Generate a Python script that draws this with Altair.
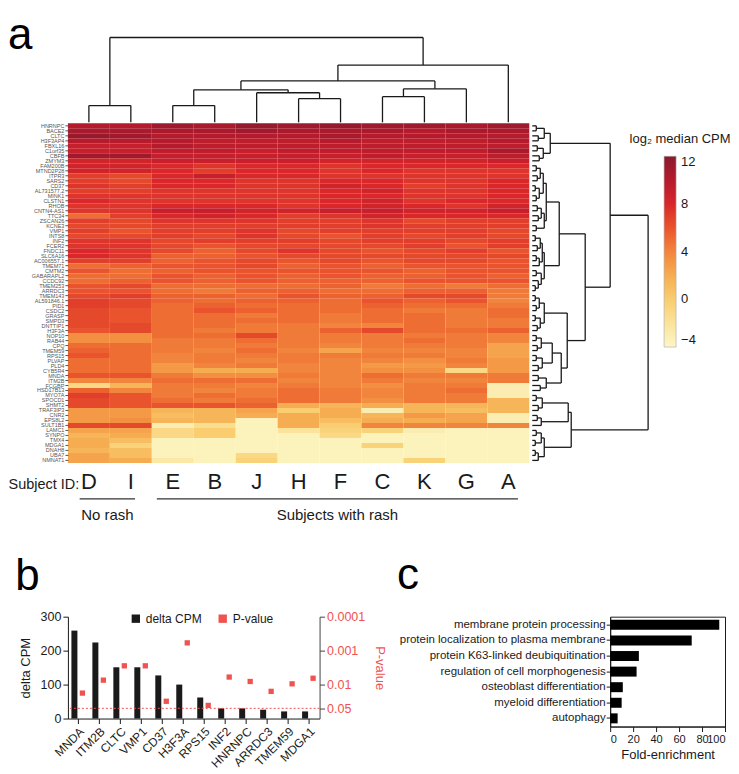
import altair as alt
import pandas as pd

FONT = "Liberation Sans"
RED = "#f0524f"
INK = "#1a1a1a"

# ---------------- panel a data ----------------
subjects = ["D", "I", "E", "B", "J", "H", "F", "C", "K", "G", "A"]
genes = ["HNRNPC", "BACE2", "CLTC", "H3F3AP4", "FBXL16", "C1orf35", "CBFB", "ZMYM3", "FAM200B", "MTND2P28",
         "ITPR3", "SARS2", "CD37", "AL731577.2", "MINK1", "CLSTN1", "RHOB", "CNTN4-AS1", "TTC34", "ZSCAN26",
         "KCNE3", "VMP1", "INTS8", "INF2", "FCER2", "FNDC11", "SLC6A16", "AC006557.1", "TMEM71", "CMTM2",
         "GABARAPL2", "CCDC92", "TMEM253", "ARRDC3", "TMEM143", "AL591846.1", "PID1", "CSDC2", "GRASP", "SMPD3",
         "DNTTIP1", "H3F3A", "NOP10", "RAB44", "CPQ", "TMEM59", "RPS15", "PLVAP", "PLD4", "CYB5R4",
         "MNDA", "ITM2B", "FCGBP", "HSD17B13", "MYO7A", "SPOCD1", "SHMT2", "TRAF3IP3", "CNR2", "EPS8L2",
         "SULT1B1", "LAMC1", "SYNPO", "TMX4", "MDGA1", "DNAH8", "UBA7", "NMNAT1"]
# log2 median CPM, columns in subject order D I E B J H F C K G A
log2_cpm = [
    [10, 10, 11, 10.5, 11.5, 11, 11.5, 11, 11, 10.5, 11],
    [10.5, 10.5, 10.5, 10.5, 11, 10.5, 10.5, 10.5, 10, 10.5, 10.5],
    [11.5, 11, 10, 10, 10, 10, 10.5, 10, 10, 10, 10],
    [10, 10, 10, 9.5, 9.5, 9.5, 10, 9.5, 9.5, 9.5, 10],
    [9, 9, 10, 9.5, 9.5, 9.5, 9.5, 9.5, 9.5, 9.5, 9.5],
    [9, 9, 9.5, 9.5, 9, 9.5, 9.5, 9.5, 9.5, 9.5, 10.5],
    [11, 11, 9, 9, 9, 9, 9, 9.5, 9, 9, 9.5],
    [8.5, 8.5, 9, 9, 9, 9, 8.5, 8.5, 8.5, 8.5, 9],
    [8.5, 8.5, 8, 7.5, 8, 8, 7.5, 8, 8, 8, 8],
    [8.5, 8.5, 8, 7, 8, 8, 7.5, 8, 7.5, 7.5, 7.5],
    [7, 6.5, 8, 9, 8, 8, 7.5, 7.5, 7.5, 7.5, 7.5],
    [7, 6.5, 8, 8, 7.5, 7.5, 8, 8, 7.5, 7.5, 8],
    [7.5, 7, 8, 8, 7.5, 7.5, 8.5, 8, 7, 7.5, 8],
    [7, 7, 7.5, 7.5, 7.5, 7.5, 8, 8.5, 7.5, 7.5, 8],
    [7.5, 7.5, 7.5, 7.5, 7.5, 7.5, 8, 8, 7.5, 7.5, 8],
    [8, 7.5, 7.5, 7.5, 7.5, 7.5, 8, 8.5, 7.5, 8, 8],
    [7.5, 7.5, 8, 8, 8, 7.5, 8, 8.5, 8, 7.5, 8.5],
    [7.5, 7.5, 9, 9, 8.5, 8.5, 9, 9, 8.5, 8.5, 9],
    [5, 7, 8, 8.5, 8, 7, 7.5, 8.5, 8, 8, 8],
    [7, 6.5, 7.5, 7.5, 7.5, 7, 7, 7.5, 6.5, 7, 7],
    [6.5, 6.5, 7, 7, 7, 7, 7, 7.5, 7, 7, 7],
    [7, 6, 7, 7, 7.5, 6.5, 7, 7, 7, 7, 6.5],
    [6.5, 6.5, 7, 6.5, 7.5, 6.5, 6, 7, 6.5, 7, 6.5],
    [7.5, 7.5, 6.5, 7, 7, 7, 6.5, 7, 7, 6.5, 7],
    [7.5, 7.5, 6.5, 6, 6.5, 6.5, 6.5, 6.5, 7, 6, 7],
    [8, 7.5, 6.5, 5.5, 6.5, 7.5, 6.5, 6, 6.5, 7, 6],
    [8, 7.5, 5.5, 5.5, 6, 6.5, 6.5, 6.5, 6.5, 6.5, 6.5],
    [7, 7, 5.5, 6, 6.5, 6, 6.5, 6, 6.5, 6.5, 6],
    [5, 5.5, 6, 6, 6.5, 5.5, 6, 5.5, 6, 6, 6],
    [6, 5, 5.5, 6, 6, 6, 6, 6, 5.5, 6, 6],
    [5, 5, 6, 5.5, 6, 5.5, 6, 5.5, 5.5, 6, 5.5],
    [5, 5.5, 6, 5.5, 6, 5.5, 5.5, 5.5, 6, 6, 6],
    [6, 6.5, 5, 5, 5, 5, 5.5, 4.5, 5, 4.5, 5],
    [6, 6, 5, 4.5, 5.5, 5.5, 5, 5, 5.5, 5.5, 4.5],
    [6.5, 7, 5.5, 5.5, 5, 6, 5.5, 5.5, 6.5, 6.5, 4.5],
    [7, 6.5, 5.5, 5, 5.5, 5.5, 5, 6, 5.5, 6, 4],
    [7, 6.5, 5, 5.5, 5, 5, 5, 5.5, 5, 5, 4.5],
    [6.5, 6, 5, 6, 5.5, 5, 5, 5, 4.5, 4.5, 5],
    [6.5, 6, 5, 5, 4.5, 5, 4.5, 5, 5, 4.5, 5],
    [6.5, 6, 5, 5, 5, 5, 4.5, 5, 5, 4.5, 4.5],
    [6.5, 6.5, 5, 5, 4.5, 4.5, 4, 4, 5, 4.5, 4.5],
    [6, 6.5, 5, 4.5, 4.5, 4.5, 5.5, 6.5, 5, 5, 5.5],
    [3.5, 3.5, 5, 5, 6.5, 4.5, 4.5, 4.5, 4.5, 4.5, 4],
    [3.5, 3.5, 4.5, 4.5, 5, 4.5, 4.5, 4.5, 5, 4.5, 4],
    [5, 5, 4.5, 4.5, 4.5, 4.5, 4, 4.5, 4.5, 4.5, 2.5],
    [5.5, 5, 4.5, 4, 5, 4, 2.5, 4, 4, 4, 2.5],
    [6, 5, 4, 4.5, 4.5, 4.5, 4.5, 4.5, 4.5, 4, 2.5],
    [5, 5, 4, 4.5, 4, 4.5, 4, 4, 3.5, 4.5, 3],
    [5, 5, 3, 4, 4.5, 4, 4, 3, 3, 4, 3],
    [5, 5, 3, 2, 2, 4, 4, 3.5, 3.5, -1, 3],
    [6, 6, 4.5, 3.5, 3.5, 4.5, 4, 5, 4.5, 4.5, 4.5],
    [4, 4, 5, 5, 5, 4, 4, 4.5, 4, 4, 4.5],
    [-1, 1.5, 4.5, 4.5, 4, 4.5, 4, 3.5, 4.5, 4.5, -3],
    [5.5, 4, 4.5, 4, 4.5, 5, 4.5, 4, 4.5, 5, -3],
    [7, 6, 4.5, 5, 4.5, 5, 4.5, 4, 4.5, 4.5, -3],
    [6.5, 6, 5, 4.5, 5, 5, 4.5, 3.5, 4.5, 4.5, 1.5],
    [6.5, 6, 6, 6, 5.5, 2, 1.5, 2, 1.5, 1.5, 1.5],
    [3, 3, 1.5, 1.5, 2.5, 0, 2, -3, 1.5, 1, 1.5],
    [3, 3, 1, 1.5, 2, 2, 2, 1.5, 3, 2.5, -3],
    [3, 3.5, 1.5, 1.5, -3.5, 2, 1, 2, 2, 2.5, -3],
    [6.5, 6.5, -3, -1.5, -3.5, 2, 0, 4, 4, 4, 4],
    [2.5, 2.5, -1, 0, -3.5, -2, -0.5, -0.5, -3, -3.5, -3.5],
    [1.5, 2, -1, 0, -3.5, -3.5, -1, -3.5, -3.5, -3.5, -3.5],
    [2, 1, -3.5, -3.5, -3.5, -3.5, -3.5, -3.5, -3.5, -3.5, -3.5],
    [2, -0.5, -3.5, -3.5, -3.5, -3.5, -3.5, -0.5, -3.5, -3.5, -3.5],
    [1.5, 1, -3.5, -3.5, -3.5, -3.5, -3.5, -3.5, -3.5, -3.5, -3.5],
    [2.5, 1, -3.5, -3.5, -1, -3.5, -3.5, -3.5, -3.5, -3.5, -3.5],
    [2.5, 2, -2.5, -3.5, -0.5, -3.5, -3.5, -3.5, -0.5, -3.5, -3.5],
]
# colour bar stops (log2 median CPM) and their colours
cbar_stops = [-4, -2, 0, 2, 4, 6, 8, 10, 12]
cbar_colors = ["#fdf6c8", "#fbe39a", "#f9cd70", "#f6ad52", "#f2853d", "#e9532d", "#d9272a", "#b51b2c", "#8a1a2e"]
# dendrograms as nested [left, right, merge height]; leaves are column / row indices
col_linkage = [[0, 1, 17], [[[[2, 3, 17], [4, [5, 6, 24], 30], 33], [[7, 8, 26], 9, 34], 42], 10, 58], 86]
row_A1 = [[[0, 1, 4], [2, 3, 6], 12], [[4, 5, 5], [6, 7, 7], 11], 18]
row_A2a1 = [[[[8, 9, 4], [10, 11, 5], 8], [[12, 13, 3], [14, 15, 4], 7], 11],
            [[[16, 17, 5], [18, 19, 6], 9], [20, 21, 4], 12], 14]
row_A2a2 = [[[[22, 23, 3], [24, 25, 5], 8], [[26, 27, 4], 28, 7], 10],
            [[29, 30, 4], [31, [32, 33, 3], 6], 9], 12]
row_A2b = [[[[34, 35, 3], [36, 37, 4], 7], [[38, 39, 3], [40, 41, 5], 8], 12],
           [[[[42, 43, 4], [44, 45, 5], 9], [[46, 47, 4], [48, 49, 6], 10], 20],
            [[50, 51, 6], [52, 53, 8], 14], 29], 35]
row_B = [[[[54, 55, 4], [56, 57, 6], 10], [[58, 59, 5], 60, 9], 36],
         [[[61, 62, 4], [63, 64, 3], 9], [[65, 66, 3], 67, 6], 12], 39]
row_linkage = [[row_A1, [[row_A2a1, row_A2a2, 27], row_A2b, 53], 78], row_B, 116]
group_names = ["No rash", "Subjects with rash"]
group_start = [0.28, 2.12]
group_end = [1.6, 10.73]
panel_letters = ["a", "b", "c"]

# ---------------- panel b data ----------------
bar_genes = ["MNDA", "ITM2B", "CLTC", "VMP1", "CD37", "H3F3A", "RPS15", "INF2", "HNRNPC", "ARRDC3", "TMEM59", "MDGA1"]
delta_cpm = [259, 224, 151, 151, 127, 100, 62, 30, 30, 26, 21, 21]
p_values = [0.0178, 0.0074, 0.0028, 0.0028, 0.031, 0.00059, 0.041, 0.0060, 0.0081, 0.0158, 0.0095, 0.0065]
p_threshold = 0.05

# ---------------- panel c data ----------------
go_terms = ["membrane protein processing", "protein localization to plasma membrane",
            "protein K63-linked deubiquitination", "regulation of cell morphogenesis",
            "osteoblast differentiation", "myeloid differentiation", "autophagy"]
fold_enrichment = [95, 71, 25, 23, 11, 10, 6.5]


def dendro_segments(tree):
    segs = []

    def walk(node):
        if isinstance(node, int):
            return node + 0.5, 0.0
        left, right, h = node
        pl, hl = walk(left)
        pr, hr = walk(right)
        segs.append({"p1": pl, "h1": hl, "p2": pl, "h2": h})
        segs.append({"p1": pr, "h1": hr, "p2": pr, "h2": h})
        segs.append({"p1": pl, "h1": h, "p2": pr, "h2": h})
        return (pl + pr) / 2, h

    walk(tree)
    return pd.DataFrame(segs)


HM_W, HM_H = 462, 340
COL_H, ROW_W = 85, 116

hm_df = pd.DataFrame([
    {"gene": g, "subject": s, "value": log2_cpm[gi][si]}
    for gi, g in enumerate(genes) for si, s in enumerate(subjects)
])
color_scale = alt.Scale(domain=cbar_stops, range=cbar_colors, clamp=True)

heat = alt.Chart(hm_df).mark_rect().encode(
    x=alt.X("subject:N", sort=subjects, scale=alt.Scale(paddingInner=0, paddingOuter=0),
            axis=alt.Axis(orient="bottom", title="Subject ID:", labelAngle=0, labelFontSize=22,
                          labelColor=INK, ticks=False, domain=False, labelPadding=26,
                          labelBaseline="alphabetic", titleFontSize=14.5, titleFontWeight="normal",
                          titleX=-60, titleY=26, titleAlign="left", titleBaseline="alphabetic",
                          titleColor=INK)),
    y=alt.Y("gene:N", sort=genes, scale=alt.Scale(paddingInner=0, paddingOuter=0),
            axis=alt.Axis(title=None, labelFontSize=5.5, labelColor="#555", tickSize=3,
                          tickColor="#555", domain=False, labelPadding=1)),
    color=alt.Color("value:Q", scale=color_scale, legend=None),
).properties(width=HM_W, height=HM_H)

cd_df = dendro_segments(col_linkage)
cd_rules = alt.Chart(cd_df).mark_rule(color=INK, strokeWidth=1.3).encode(
    x=alt.X("p1:Q", scale=alt.Scale(domain=[0, len(subjects)], nice=False, zero=False), axis=None),
    x2="p2:Q",
    y=alt.Y("h1:Q", scale=alt.Scale(domain=[0, 86], nice=False), axis=None),
    y2="h2:Q",
)
a_label = alt.Chart(pd.DataFrame({"letter": [panel_letters[0]]})).mark_text(
    fontSize=44, align="left", baseline="alphabetic", color="#000").encode(
    text="letter:N", x=alt.value(-60), y=alt.value(12))
col_dend = alt.layer(cd_rules, a_label).properties(width=HM_W, height=COL_H)

rd_df = dendro_segments(row_linkage)
rd_rules = alt.Chart(rd_df).mark_rule(color=INK, strokeWidth=1.3).encode(
    x=alt.X("h1:Q", scale=alt.Scale(domain=[0, 116], nice=False), axis=None),
    x2="h2:Q",
    y=alt.Y("p1:Q", scale=alt.Scale(domain=[0, len(genes)], reverse=True, nice=False, zero=False), axis=None),
    y2="p2:Q",
)
legend_df = pd.DataFrame({"value": [0.0]})
rd_legend = alt.Chart(legend_df).mark_rect().encode(
    x=alt.value(0), x2=alt.value(0), y=alt.value(0), y2=alt.value(0),
    color=alt.Color("value:Q", scale=color_scale, legend=alt.Legend(
        title="log\u2082 median CPM", orient="none", legendX=97, legendY=10, direction="vertical",
        gradientLength=191, gradientThickness=12, values=[-4, 0, 4, 8, 12],
        labelFontSize=13, titleFontSize=13, titleFontWeight="normal", titleAnchor="middle",
        titlePadding=10, labelOffset=5, gradientStrokeWidth=0.6, gradientStrokeColor="#aaa",
        labelColor=INK, titleColor=INK,
        labelExpr="datum.value < 0 ? '\u2212' + abs(datum.value) : datum.label")),
)
row_dend = alt.layer(rd_rules, rd_legend).properties(width=ROW_W, height=HM_H)

blank = alt.Chart(pd.DataFrame({"v": [0]})).mark_point(opacity=0).encode(
    x=alt.X("v:Q", axis=None), y=alt.Y("v:Q", axis=None)).properties(width=1, height=1)

grp_df = pd.DataFrame({"label": group_names, "start": group_start, "end": group_end})
gx = alt.Scale(domain=[0, len(subjects)], nice=False, zero=False)
g_rule = alt.Chart(grp_df).mark_rule(color="#333", strokeWidth=1.3).encode(
    x=alt.X("start:Q", scale=gx, axis=None), x2="end:Q", y=alt.value(6))
g_text = alt.Chart(grp_df).transform_calculate(mid="(datum.start + datum.end) / 2").mark_text(
    fontSize=15, baseline="top", color=INK).encode(
    x=alt.X("mid:Q", scale=gx, axis=None), text="label:N", y=alt.value(15))
groups = alt.layer(g_rule, g_text).properties(width=HM_W, height=30)

panel_a = alt.concat(col_dend, blank, heat, row_dend, groups, columns=2, spacing=0,
                     align="each").resolve_scale(color="independent")

# ---------------- panel b ----------------
pb_df = pd.DataFrame({"gene": bar_genes, "delta": delta_cpm, "p": p_values})
cat_scale = alt.Scale(domain=["delta CPM", "P-value"], range=[INK, RED])
b_legend = alt.Legend(title=None, orient="none", legendX=62, legendY=-4, direction="horizontal",
                      symbolType="square", symbolSize=70, labelFontSize=12, labelColor=INK,
                      columnPadding=14)
x_b = alt.X("gene:N", sort=bar_genes, title=None,
            axis=alt.Axis(labelAngle=-45, labelAlign="right", labelBaseline="top", labelFontSize=12,
                          labelColor=INK, tickSize=5, tickColor=INK, domainColor=INK, labelPadding=2))
p_scale = alt.Scale(type="log", domain=[0.0001, 0.1], reverse=True, nice=False)
bars = alt.Chart(pb_df).transform_calculate(series="'delta CPM'").mark_bar(width=6, xOffset=-4).encode(
    x=x_b,
    y=alt.Y("delta:Q", scale=alt.Scale(domain=[0, 300], nice=False),
            axis=alt.Axis(values=[0, 100, 200, 300], title="delta CPM", grid=False, titleFontSize=13,
                          titleFontWeight="normal", labelFontSize=12.5, tickSize=5, titlePadding=8,
                          domainColor=INK, tickColor=INK, labelColor=INK, titleColor=INK)),
    color=alt.Color("series:N", scale=cat_scale, legend=b_legend),
)
squares = alt.Chart(pb_df).transform_calculate(series="'P-value'").mark_square(size=28, xOffset=4, opacity=1).encode(
    x=x_b,
    y=alt.Y("p:Q", scale=p_scale,
            axis=alt.Axis(orient="right", values=[0.0001, 0.001, 0.01, 0.05], format="~g",
                          title="P-value", titleAngle=90, titleFontSize=13, titleFontWeight="normal",
                          titleColor=RED, labelColor=RED, labelFontSize=12.5, grid=False, tickSize=5,
                          domainColor="#444", tickColor="#444", titlePadding=8)),
    color=alt.Color("series:N", scale=cat_scale, legend=b_legend),
)
thr = alt.Chart(pd.DataFrame({"p": [p_threshold]})).mark_rule(
    color=RED, strokeDash=[2, 2], strokeWidth=1).encode(y=alt.Y("p:Q", scale=p_scale, axis=None))
panel_b = alt.layer(bars, squares, thr).resolve_scale(y="independent").properties(
    width=252, height=102,
    title=alt.TitleParams(panel_letters[1], fontSize=44, anchor="start", dx=-4, offset=12,
                          fontWeight="normal", color="#000"))

# ---------------- panel c ----------------
pc_df = pd.DataFrame({"term": go_terms, "fold": fold_enrichment})
panel_c = alt.Chart(pc_df).mark_bar(color="#000", height=10).encode(
    x=alt.X("fold:Q", scale=alt.Scale(domain=[0, 100], nice=False),
            axis=alt.Axis(values=[0, 20, 40, 60, 80, 100], title="Fold-enrichment", grid=False,
                          labelOverlap=False, titleFontSize=13, titleFontWeight="normal",
                          labelFontSize=11, tickSize=5, titlePadding=4, domainColor=INK,
                          tickColor=INK, labelColor=INK, titleColor=INK)),
    y=alt.Y("term:N", sort=go_terms, title=None, scale=alt.Scale(paddingOuter=0.2, paddingInner=0.35),
            axis=alt.Axis(labelFontSize=11.5, tickSize=4, labelPadding=1, labelLimit=0, domainColor=INK,
                          tickColor=INK, labelColor=INK)),
).properties(width=115, height=110, view=alt.ViewBackground(stroke=INK, strokeWidth=1),
             title=alt.TitleParams(panel_letters[2], fontSize=44, anchor="start", dx=-2, offset=19,
                                   fontWeight="normal", color="#000"))

bottom = alt.hconcat(panel_b, panel_c, spacing=10).resolve_scale(color="independent")

chart = alt.vconcat(panel_a, bottom, spacing=30).resolve_scale(color="independent").properties(
    padding={"top": 6, "left": 0, "right": 0, "bottom": 0}
).configure(font=FONT).configure_view(stroke=None).configure_axis(
    labelFont=FONT, titleFont=FONT
).configure_legend(labelFont=FONT, titleFont=FONT).configure_title(font=FONT)

chart.save("out.html", embed_options={"renderer": "svg", "actions": False})
